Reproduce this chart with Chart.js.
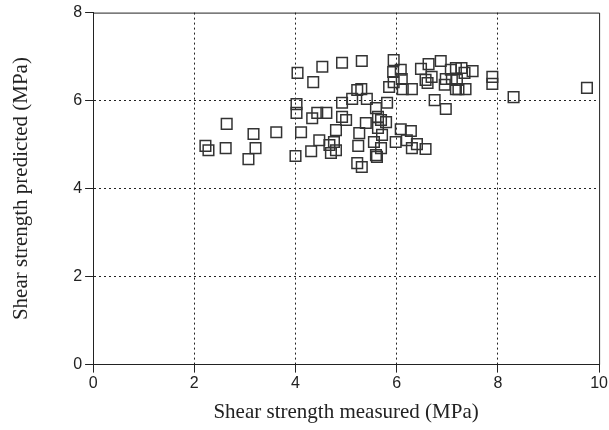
<!DOCTYPE html>
<html>
<head>
<meta charset="utf-8">
<script src="https://cdn.jsdelivr.net/npm/chart.js@4/dist/chart.umd.min.js"></script>
<style>
  html, body { margin: 0; padding: 0; background: #fff; }
  #wrap { width: 609px; height: 430px; }
</style>
</head>
<body>
<div id="wrap"><canvas id="scatterChart" width="609" height="430"></canvas></div>
<script>
// measured vs predicted shear strength (MPa)
const measured = [
  4.04, 4.53, 4.35, 4.02, 4.02, 4.33, 4.43, 4.61, 2.64, 3.17,
  3.62, 4.11, 2.22, 2.28, 2.62, 3.21, 3.07, 4.00, 4.47, 4.31,
  4.92, 5.31, 5.94, 5.93, 6.08, 6.10, 5.94, 5.85, 6.12, 6.30,
  6.48, 6.63, 6.87, 6.57, 6.61, 6.69, 6.97, 6.95, 7.07, 7.17,
  7.19, 6.75, 6.97, 5.22, 5.30, 5.12, 5.41, 4.92, 5.81, 5.59,
  4.92, 5.00, 5.63, 5.69, 5.39, 5.79, 5.63, 4.80, 5.26, 5.71,
  6.08, 6.28, 4.76, 4.67, 4.80, 4.70, 5.98, 6.20, 6.40, 6.30,
  6.57, 5.24, 5.55, 5.69, 5.59, 5.61, 5.22, 5.31, 7.17, 7.28,
  7.50, 7.34, 7.09, 7.22, 7.36, 7.89, 7.89, 8.31, 9.76
];
const predicted = [
  6.63, 6.77, 6.42, 5.92, 5.72, 5.60, 5.72, 5.72, 5.47, 5.24,
  5.28, 5.28, 4.97, 4.87, 4.92, 4.92, 4.67, 4.74, 5.10, 4.85,
  6.86, 6.90, 6.92, 6.65, 6.70, 6.49, 6.42, 6.31, 6.26, 6.26,
  6.72, 6.83, 6.90, 6.47, 6.40, 6.54, 6.49, 6.36, 6.70, 6.26,
  6.47, 6.01, 5.81, 6.24, 6.26, 6.04, 6.04, 5.95, 5.95, 5.83,
  5.63, 5.56, 5.63, 5.56, 5.49, 5.51, 5.38, 5.33, 5.26, 5.22,
  5.35, 5.31, 5.06, 4.99, 4.87, 4.81, 5.06, 5.10, 5.01, 4.92,
  4.90, 4.97, 5.06, 4.92, 4.76, 4.72, 4.58, 4.49, 6.74, 6.74,
  6.67, 6.63, 6.49, 6.26, 6.26, 6.54, 6.38, 6.08, 6.29
];
const xTicks = [0, 2, 4, 6, 8, 10];
const yTicks = [0, 2, 4, 6, 8];

const points = measured.map((m, i) => ({ x: m, y: predicted[i] }));

// closes the box on the top and right side
const frame = {
  id: "frame",
  afterDraw(chart) {
    const a = chart.chartArea;
    const c = chart.ctx;
    c.save();
    c.strokeStyle = "#222";
    c.lineWidth = 1;
    c.beginPath();
    c.moveTo(a.left, a.top + 0.5);
    c.lineTo(a.right + 0.5, a.top + 0.5);
    c.lineTo(a.right + 0.5, a.bottom);
    c.stroke();
    c.restore();
  }
};

const gridColor = max => ctx => (ctx.tick && (ctx.tick.value === 0 || ctx.tick.value === max)) ? "rgba(0,0,0,0)" : "#222";

new Chart(document.getElementById("scatterChart"), {
  type: "scatter",
  data: {
    datasets: [{
      data: points,
      pointStyle: "rect",
      pointRadius: 7.5,
      pointHoverRadius: 7.5,
      pointBorderWidth: 1.5,
      pointBorderColor: "#333",
      pointBackgroundColor: "rgba(0,0,0,0)"
    }]
  },
  options: {
    responsive: false,
    animation: false,
    layout: { padding: { left: 5, right: 0, top: 0, bottom: 0 } },
    plugins: { legend: { display: false }, tooltip: { enabled: false } },
    scales: {
      x: {
        type: "linear",
        min: 0, max: 10,
        afterBuildTicks: axis => { axis.ticks = xTicks.map(v => ({ value: v })); },
        grid: { color: gridColor(10), tickColor: "#222", tickLength: 8, lineWidth: 1 },
        border: { color: "#222", width: 1, dash: [2, 3] },
        ticks: { color: "#222", padding: 1, maxRotation: 0, font: { family: "Liberation Sans", size: 16 } },
        title: {
          display: true,
          text: "Shear strength measured (MPa)",
          color: "#222",
          padding: { top: 6, bottom: 5 },
          font: { family: "Liberation Serif", size: 21 }
        }
      },
      y: {
        type: "linear",
        min: 0, max: 8,
        afterBuildTicks: axis => { axis.ticks = yTicks.map(v => ({ value: v })); },
        grid: { color: gridColor(8), tickColor: "#222", tickLength: 8, lineWidth: 1 },
        border: { color: "#222", width: 1, dash: [2, 3] },
        ticks: { color: "#222", padding: 3, font: { family: "Liberation Sans", size: 16 } },
        title: {
          display: true,
          text: "Shear strength predicted (MPa)",
          color: "#222",
          padding: { top: 4, bottom: 36 },
          font: { family: "Liberation Serif", size: 21 }
        }
      }
    }
  },
  plugins: [frame]
});
</script>
</body>
</html>
